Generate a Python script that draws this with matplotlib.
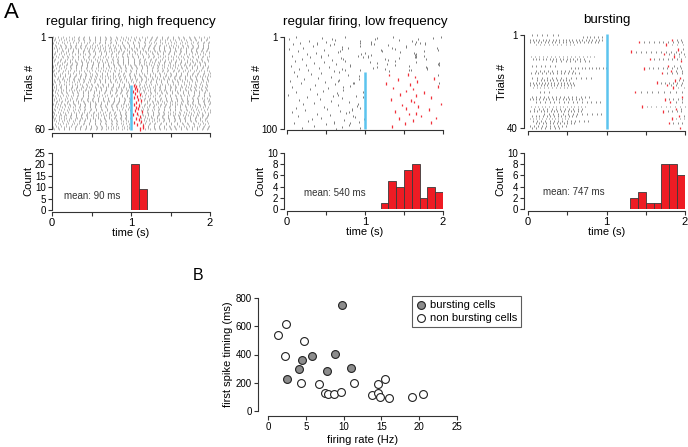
import numpy as np
import matplotlib
matplotlib.use('Agg')
import matplotlib.pyplot as plt

plt.rcParams['font.family'] = ['Liberation Sans', 'DejaVu Sans']

# ---- panel A, regular firing high frequency (60 trials, stim on the last 29)
hf_period = [0.066, 0.071, 0.064, 0.069, 0.073, 0.067, 0.062, 0.070, 0.068, 0.065,
             0.072, 0.066, 0.069, 0.063, 0.071, 0.067, 0.074, 0.065, 0.068, 0.070,
             0.064, 0.069, 0.066, 0.072, 0.067, 0.063, 0.070, 0.068, 0.065, 0.071,
             0.069, 0.066, 0.073, 0.064, 0.068, 0.070, 0.067, 0.062, 0.071, 0.066,
             0.069, 0.065, 0.072, 0.068, 0.064, 0.070, 0.067, 0.073, 0.066, 0.069,
             0.063, 0.071, 0.068, 0.065, 0.070, 0.067, 0.072, 0.064, 0.069, 0.066]
hf_phase = [0.012, 0.041, 0.027, 0.055, 0.008, 0.033, 0.049, 0.019, 0.061, 0.004,
            0.038, 0.022, 0.052, 0.015, 0.044, 0.029, 0.006, 0.058, 0.035, 0.018,
            0.047, 0.025, 0.010, 0.053, 0.031, 0.042, 0.003, 0.057, 0.021, 0.036,
            0.014, 0.050, 0.028, 0.045, 0.007, 0.039, 0.060, 0.017, 0.032, 0.054,
            0.024, 0.002, 0.046, 0.011, 0.037, 0.059, 0.020, 0.043, 0.009, 0.030,
            0.051, 0.016, 0.040, 0.026, 0.056, 0.005, 0.034, 0.048, 0.013, 0.023]
hf_red_trials = list(range(32, 61))
hf_latency = [0.035, 0.062, 0.048, 0.081, 0.027, 0.055, 0.118, 0.071, 0.044, 0.093,
              0.132, 0.058, 0.039, 0.105, 0.066, 0.087, 0.051, 0.141, 0.074, 0.029,
              0.112, 0.063, 0.096, 0.125, 0.042, 0.078, 0.157, 0.148, 0.109]

# ---- regular firing low frequency (100 trials, stim from trial 39)
lf_period = [0.62, 0.71, 0.55, 0.83, 0.66, 0.58, 0.77, 0.69, 0.52, 0.74,
             0.60, 0.81, 0.57, 0.68, 0.73, 0.54, 0.79, 0.63, 0.70, 0.56,
             0.85, 0.61, 0.67, 0.75, 0.53, 0.72, 0.64, 0.59, 0.80, 0.65,
             0.57, 0.76, 0.62, 0.69, 0.55, 0.82, 0.66, 0.71, 0.58, 0.74,
             0.88, 0.63, 0.79, 0.67, 0.92, 0.70, 0.84, 0.61, 0.76, 0.95,
             0.68, 0.86, 0.73, 0.90, 0.65, 0.81, 0.77, 0.94, 0.69, 0.87,
             0.75, 0.91, 0.64, 0.83, 0.97, 0.72, 0.89, 0.78, 0.85, 0.66,
             0.93, 0.80, 0.71, 0.88, 0.96, 0.74, 0.82, 0.68, 0.90, 0.79,
             0.86, 0.73, 0.95, 0.77, 0.84, 0.70, 0.92, 0.81, 0.67, 0.89,
             0.76, 0.98, 0.83, 0.72, 0.87, 0.94, 0.78, 0.91, 0.75, 0.85]
lf_phase = [0.12, 0.45, 0.03, 0.61, 0.28, 0.50, 0.17, 0.39, 0.08, 0.55,
            0.33, 0.71, 0.21, 0.02, 0.47, 0.14, 0.66, 0.37, 0.25, 0.52,
            0.06, 0.43, 0.30, 0.69, 0.19, 0.58, 0.10, 0.48, 0.35, 0.63,
            0.24, 0.05, 0.54, 0.41, 0.15, 0.74, 0.27, 0.60, 0.09, 0.44,
            0.31, 0.78, 0.13, 0.56, 0.40, 0.22, 0.67, 0.04, 0.49, 0.85,
            0.18, 0.62, 0.36, 0.81, 0.07, 0.53, 0.29, 0.72, 0.46, 0.11,
            0.64, 0.38, 0.01, 0.59, 0.88, 0.26, 0.70, 0.42, 0.16, 0.57,
            0.79, 0.34, 0.20, 0.65, 0.90, 0.48, 0.12, 0.51, 0.83, 0.23,
            0.68, 0.06, 0.76, 0.39, 0.55, 0.14, 0.87, 0.44, 0.32, 0.73,
            0.27, 0.92, 0.60, 0.09, 0.50, 0.80, 0.35, 0.71, 0.19, 0.63]
lf_stim_first = 39
lf_red_trials = [41, 42, 44, 46, 47, 49, 51, 52, 54, 56, 57, 59, 61, 63, 64, 66, 68,
                 69, 71, 73, 74, 76, 78, 79, 81, 83, 84, 86, 88, 89, 91, 93, 94, 97]
lf_latency = [0.55, 0.31, 0.64, 0.88, 0.42, 0.67, 0.27, 0.58, 0.94, 0.36, 0.61, 0.52,
              0.76, 0.45, 0.66, 0.84, 0.33, 0.59, 0.63, 0.97, 0.47, 0.68, 0.53, 0.82,
              0.38, 0.65, 0.56, 0.72, 0.91, 0.44, 0.62, 0.85, 0.51, 0.34]

# ---- bursting (40 trials, all stimulated)
burst_pre_start = [0.05, 0.70, 0.02, 0.03, 0.10, 0.0, 0.0, 0.0, 0.0, 0.04,
                   0.06, 0.30, 0.0, 0.05, 0.55, 0.10, 0.04, 0.0, 0.05, 0.12,
                   0.02, 0.03, 0.06, 0.0, 0.15, 0.0, 0.05, 0.02, 0.10, 0.0,
                   0.04, 0.08, 0.03, 0.20, 0.05, 0.02, 0.06, 0.10, 0.03, 0.05]
burst_pre_end = [0.42, 0.98, 0.95, 0.90, 0.60, 0.0, 0.0, 0.0, 0.0, 0.85,
                 0.75, 0.80, 0.0, 0.35, 1.00, 0.60, 0.65, 0.0, 0.80, 0.55,
                 0.60, 0.62, 0.58, 0.0, 0.30, 0.0, 0.78, 0.70, 0.95, 0.0,
                 0.75, 0.70, 0.72, 0.98, 0.65, 0.55, 0.80, 0.60, 0.50, 0.45]
burst_isi = [0.055, 0.040, 0.035, 0.038, 0.045, 0.04, 0.04, 0.04, 0.04, 0.042,
             0.036, 0.050, 0.04, 0.048, 0.037, 0.044, 0.039, 0.04, 0.052, 0.034,
             0.033, 0.036, 0.041, 0.04, 0.047, 0.04, 0.043, 0.035, 0.049, 0.04,
             0.038, 0.046, 0.036, 0.051, 0.039, 0.034, 0.045, 0.037, 0.042, 0.048]
burst_red_trials = [3, 4, 5, 7, 8, 9, 10, 11, 12, 14, 15, 16, 17, 19, 20, 21, 22, 23,
                    25, 27, 28, 29, 31, 32, 33, 35, 36, 38, 40]
burst_latency = [0.84, 0.42, 0.76, 0.91, 0.31, 0.73, 0.86, 0.55, 0.95, 0.78, 0.48,
                 0.82, 0.71, 0.93, 0.87, 0.64, 0.77, 0.85, 0.36, 0.96, 0.74, 0.81,
                 0.45, 0.88, 0.72, 0.92, 0.83, 0.79, 0.94]

titles = ['regular firing, high frequency', 'regular firing, low frequency', 'bursting']
mean_labels = ['mean: 90 ms', 'mean: 540 ms', 'mean: 747 ms']

# ---- panel B
burst_rate = [9.8, 2.5, 4.1, 4.5, 5.8, 7.8, 8.8, 11.0]
burst_fst = [747, 224, 299, 360, 388, 282, 405, 304]
nb_rate = [1.3, 2.4, 2.3, 4.8, 4.4, 6.8, 7.5, 7.9, 8.7, 9.7, 11.4, 13.8, 14.5,
           14.5, 14.8, 15.5, 16.0, 19.1, 20.5]
nb_fst = [541, 619, 388, 496, 200, 191, 129, 122, 122, 134, 198, 113, 129, 188,
          101, 226, 94, 101, 120]

RED = '#f0303a'
BLUE = '#5cc4ee'
BAR = '#ee1c24'

W, H = 688, 447
fig = plt.figure(figsize=(W / 100, H / 100), dpi=100)


def px_axes(x0, y0, x1, y1):
    return fig.add_axes([x0 / W, 1 - y1 / H, (x1 - x0) / W, (y1 - y0) / H])


def style(ax, xoff, yoff):
    for s in ['top', 'right']:
        ax.spines[s].set_visible(False)
    for s in ['left', 'bottom']:
        ax.spines[s].set_linewidth(0.8)
        ax.spines[s].set_color('#333333')
    ax.spines['left'].set_position(('outward', yoff))
    ax.spines['bottom'].set_position(('outward', xoff))
    ax.tick_params(length=3, width=0.8, color='#333333', labelsize=7, pad=1.5)


def hf_spikes():
    black, red = [], []
    for i in range(60):
        tr = i + 1
        per, ph = hf_period[i], hf_phase[i]
        if tr in hf_red_trials:
            lat = hf_latency[hf_red_trials.index(tr)]
            pre = np.arange(ph, 1.0, per)
            t_red = 1.0 + lat
            post = np.arange(t_red + per, 2.0, per)
            black += [(t, tr) for t in pre] + [(t, tr) for t in post]
            red.append((t_red, tr))
        else:
            black += [(t, tr) for t in np.arange(ph, 2.0, per)]
    return black, red


def lf_spikes():
    black, red = [], []
    for i in range(100):
        tr = i + 1
        per, ph = lf_period[i], lf_phase[i]
        if tr < lf_stim_first:
            black += [(t, tr) for t in np.arange(ph, 2.0, per)]
            continue
        black += [(t, tr) for t in np.arange(ph, 1.0, per)]
        if tr in lf_red_trials:
            t_red = 1.0 + lf_latency[lf_red_trials.index(tr)]
            red.append((t_red, tr))
            black += [(t, tr) for t in np.arange(t_red + per, 2.0, per)]
    return black, red


def burst_spikes():
    black, red = [], []
    for i in range(40):
        tr = i + 1
        isi = burst_isi[i]
        black += [(t, tr) for t in np.arange(burst_pre_start[i], burst_pre_end[i], isi * 1.2)]
        if tr in burst_red_trials:
            t_red = 1.0 + burst_latency[burst_red_trials.index(tr)]
            red.append((t_red, tr))
            black += [(t, tr) for t in np.arange(t_red + isi * 1.6, 2.0, isi * 1.6)]
    return black, red


panels = [
    dict(spk=hf_spikes(), ntr=60, lat=hf_latency, x0=52, x1=210, r_y0=37, r_y1=129,
         yoff_r=0, xoff_r=4, yoff_h=0, stim=(31.5, 60.5), ymax=25, yt=[0, 5, 10, 15, 20, 25],
         mean_pos=(0.15, 6), tick_h=0.75, lw=0.45, col='#8c8c8c'),
    dict(spk=lf_spikes(), ntr=100, lat=lf_latency, x0=287, x1=443, r_y0=37, r_y1=129,
         yoff_r=3, xoff_r=1, yoff_h=3, stim=(lf_stim_first - 0.5, 100.5), ymax=10,
         yt=[0, 2, 4, 6, 8, 10], mean_pos=(0.22, 2.9), tick_h=1.1, lw=0.7, col='#7a7a7a'),
    dict(spk=burst_spikes(), ntr=40, lat=burst_latency, x0=528, x1=685, r_y0=35, r_y1=128,
         yoff_r=4, xoff_r=3, yoff_h=4, stim=(0.5, 40.5), ymax=10,
         yt=[0, 2, 4, 6, 8, 10], mean_pos=(0.19, 3), tick_h=0.4, lw=0.6, col='#7a7a7a'),
]

for k, p in enumerate(panels):
    # raster
    ax = px_axes(p['x0'], p['r_y0'], p['x1'], p['r_y1'])
    black, red = p['spk']
    bt = np.array(black)
    rt = np.array(red)
    h = p['tick_h']
    ax.vlines(bt[:, 0], bt[:, 1] - h, bt[:, 1] + h, color=p['col'], lw=p['lw'],
              clip_on=False)
    ax.vlines(rt[:, 0], rt[:, 1] - h * 1.3, rt[:, 1] + h * 1.3, color=RED, lw=0.9,
              clip_on=False)
    ax.vlines(1.0, p['stim'][0], p['stim'][1], color=BLUE, lw=1.8, clip_on=False)
    ax.set_xlim(0, 2)
    ax.set_ylim(p['ntr'], 1)
    ax.set_yticks([1, p['ntr']])
    ax.set_xticks([0, 0.5, 1, 1.5, 2])
    ax.set_xticklabels([])
    style(ax, p['xoff_r'] * 0.72, p['yoff_r'] * 0.72)
    ax.set_ylabel('Trials #', fontsize=8, labelpad=0)
    ax.set_title(titles[k], fontsize=9.6, pad=9)

    # histogram of first spike after stim
    axh = px_axes(p['x0'], 153, p['x1'], 209 if k else 210)
    axh.hist(1.0 + np.array(p['lat']), bins=np.linspace(1, 2, 11), color=BAR,
             edgecolor='#3a3a3a', linewidth=0.6)
    axh.set_xlim(0, 2)
    axh.set_ylim(0, p['ymax'])
    axh.set_yticks(p['yt'])
    axh.set_xticks([0, 0.5, 1, 1.5, 2])
    axh.set_xticklabels(['0', '', '1', '', '2'])
    style(axh, 1.5, p['yoff_h'] * 0.72)
    axh.tick_params(axis='x', labelsize=8)
    axh.set_ylabel('Count', fontsize=8, labelpad=1)
    axh.set_xlabel('time (s)', fontsize=8, labelpad=0)
    axh.text(p['mean_pos'][0], p['mean_pos'][1], mean_labels[k], fontsize=7,
             color='#333333', va='center')

# ---- panel B scatter
axb = px_axes(268, 298, 457, 411)
axb.scatter(nb_rate, nb_fst, s=32, facecolor='white', edgecolor='#222222',
            linewidth=0.8, label='non bursting cells', zorder=3)
axb.scatter(burst_rate, burst_fst, s=32, facecolor='#8c8c8c', edgecolor='#222222',
            linewidth=0.8, label='bursting cells', zorder=3)
axb.set_xlim(0, 25)
axb.set_ylim(0, 800)
axb.set_xticks([0, 5, 10, 15, 20, 25])
axb.set_yticks([0, 200, 400, 600, 800])
style(axb, 3.6, 7.2)
axb.tick_params(labelsize=7)
axb.set_xlabel('firing rate (Hz)', fontsize=8, labelpad=2)
axb.set_ylabel('first spike timing (ms)', fontsize=8, labelpad=2)
handles, labels = axb.get_legend_handles_labels()
leg = axb.legend(handles[::-1], labels[::-1], loc='upper left',
                 bbox_to_anchor=(412 / W, 1 - 296 / H), bbox_transform=fig.transFigure,
                 fontsize=8, frameon=True, fancybox=False, edgecolor='#333333',
                 handletextpad=0.3, borderpad=0.35, labelspacing=0.3,
                 handlelength=1.0, borderaxespad=0)
leg.get_frame().set_linewidth(0.8)

fig.text(11 / W, 1 - 12 / H, 'A', fontsize=16, ha='center', va='center')
fig.text(198 / W, 1 - 276 / H, 'B', fontsize=11.5, ha='center', va='center')

fig.savefig('out.png', dpi=100)
